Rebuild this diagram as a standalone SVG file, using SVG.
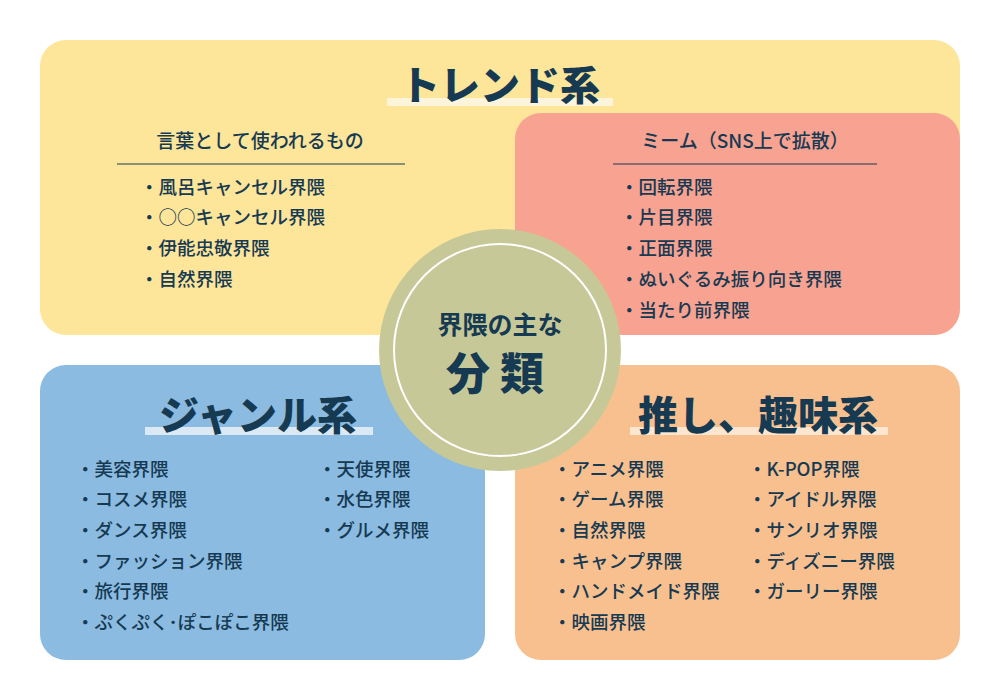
<svg xmlns="http://www.w3.org/2000/svg" width="1000" height="700" viewBox="0 0 1000 700">
<style>
text{font-family:"Noto Sans CJK JP","Noto Sans",sans-serif;fill:#163a52}
.t{font-size:40px;font-weight:900;text-anchor:middle}
.s{font-size:19px;font-weight:500}
.i{font-size:18.5px;font-weight:500}
.hl{fill:#fdf4dc}
</style>
<rect width="1000" height="700" fill="#ffffff"/>
<g id="trend">
<rect x="40" y="40" width="920" height="295" rx="26" fill="#fde59a"/>
<rect class="hl" x="387" y="98" width="226" height="8"/>
<text class="t" x="500" y="100">トレンド系</text>
<text class="s" x="260" y="148" text-anchor="middle">言葉として使われるもの</text>
<line x1="117" y1="164" x2="405" y2="164" stroke="#163a52" stroke-width="1"/>
<text class="i" x="140" y="194">・風呂キャンセル界隈</text>
<text class="i" x="140" y="224">・○○キャンセル界隈</text>
<text class="i" x="140" y="255">・伊能忠敬界隈</text>
<text class="i" x="140" y="286">・自然界隈</text>
</g>
<g id="meme">
<rect x="515" y="113" width="445" height="222" rx="26" fill="#f8a291"/>
<text class="s" x="745" y="148" text-anchor="middle">ミーム（SNS上で拡散）</text>
<line x1="613" y1="164" x2="877" y2="164" stroke="#163a52" stroke-width="1"/>
<text class="i" x="620" y="194">・回転界隈</text>
<text class="i" x="620" y="224">・片目界隈</text>
<text class="i" x="620" y="255">・正面界隈</text>
<text class="i" x="620" y="286">・ぬいぐるみ振り向き界隈</text>
<text class="i" x="620" y="317">・当たり前界隈</text>
</g>
<g id="genre">
<rect x="40" y="365" width="445" height="295" rx="26" fill="#8bbbe1"/>
<rect x="145" y="427" width="228" height="8" fill="#dbe9f4"/>
<text class="t" x="258" y="430">ジャンル系</text>
<text class="i" x="76" y="476">・美容界隈</text>
<text class="i" x="76" y="506">・コスメ界隈</text>
<text class="i" x="76" y="537">・ダンス界隈</text>
<text class="i" x="76" y="568">・ファッション界隈</text>
<text class="i" x="76" y="598">・旅行界隈</text>
<text class="i" x="76" y="629">・ぷくぷく･ぽこぽこ界隈</text>
<text class="i" x="318" y="476">・天使界隈</text>
<text class="i" x="318" y="506">・水色界隈</text>
<text class="i" x="318" y="537">・グルメ界隈</text>
</g>
<g id="oshi">
<rect x="515" y="365" width="445" height="295" rx="26" fill="#f9c08f"/>
<rect x="630" y="427" width="258" height="8" fill="#fde6cf"/>
<text class="t" x="758" y="430">推し、趣味系</text>
<text class="i" x="553" y="476">・アニメ界隈</text>
<text class="i" x="553" y="506">・ゲーム界隈</text>
<text class="i" x="553" y="537">・自然界隈</text>
<text class="i" x="553" y="568">・キャンプ界隈</text>
<text class="i" x="553" y="598">・ハンドメイド界隈</text>
<text class="i" x="553" y="629">・映画界隈</text>
<text class="i" x="748" y="476">・K-POP界隈</text>
<text class="i" x="748" y="506">・アイドル界隈</text>
<text class="i" x="748" y="537">・サンリオ界隈</text>
<text class="i" x="748" y="568">・ディズニー界隈</text>
<text class="i" x="748" y="598">・ガーリー界隈</text>
</g>
<g id="center">
<circle cx="500" cy="350" r="121" fill="#c6c997"/>
<circle cx="500" cy="350" r="106" fill="none" stroke="#ffffff" stroke-width="2"/>
<text x="500" y="334" text-anchor="middle" style="font-size:25px;font-weight:700">界隈の主な</text>
<text x="500" y="390" text-anchor="middle" style="font-size:44px;font-weight:900;letter-spacing:10px">分類</text>
</g>
<g id="connectors"></g>
</svg>
